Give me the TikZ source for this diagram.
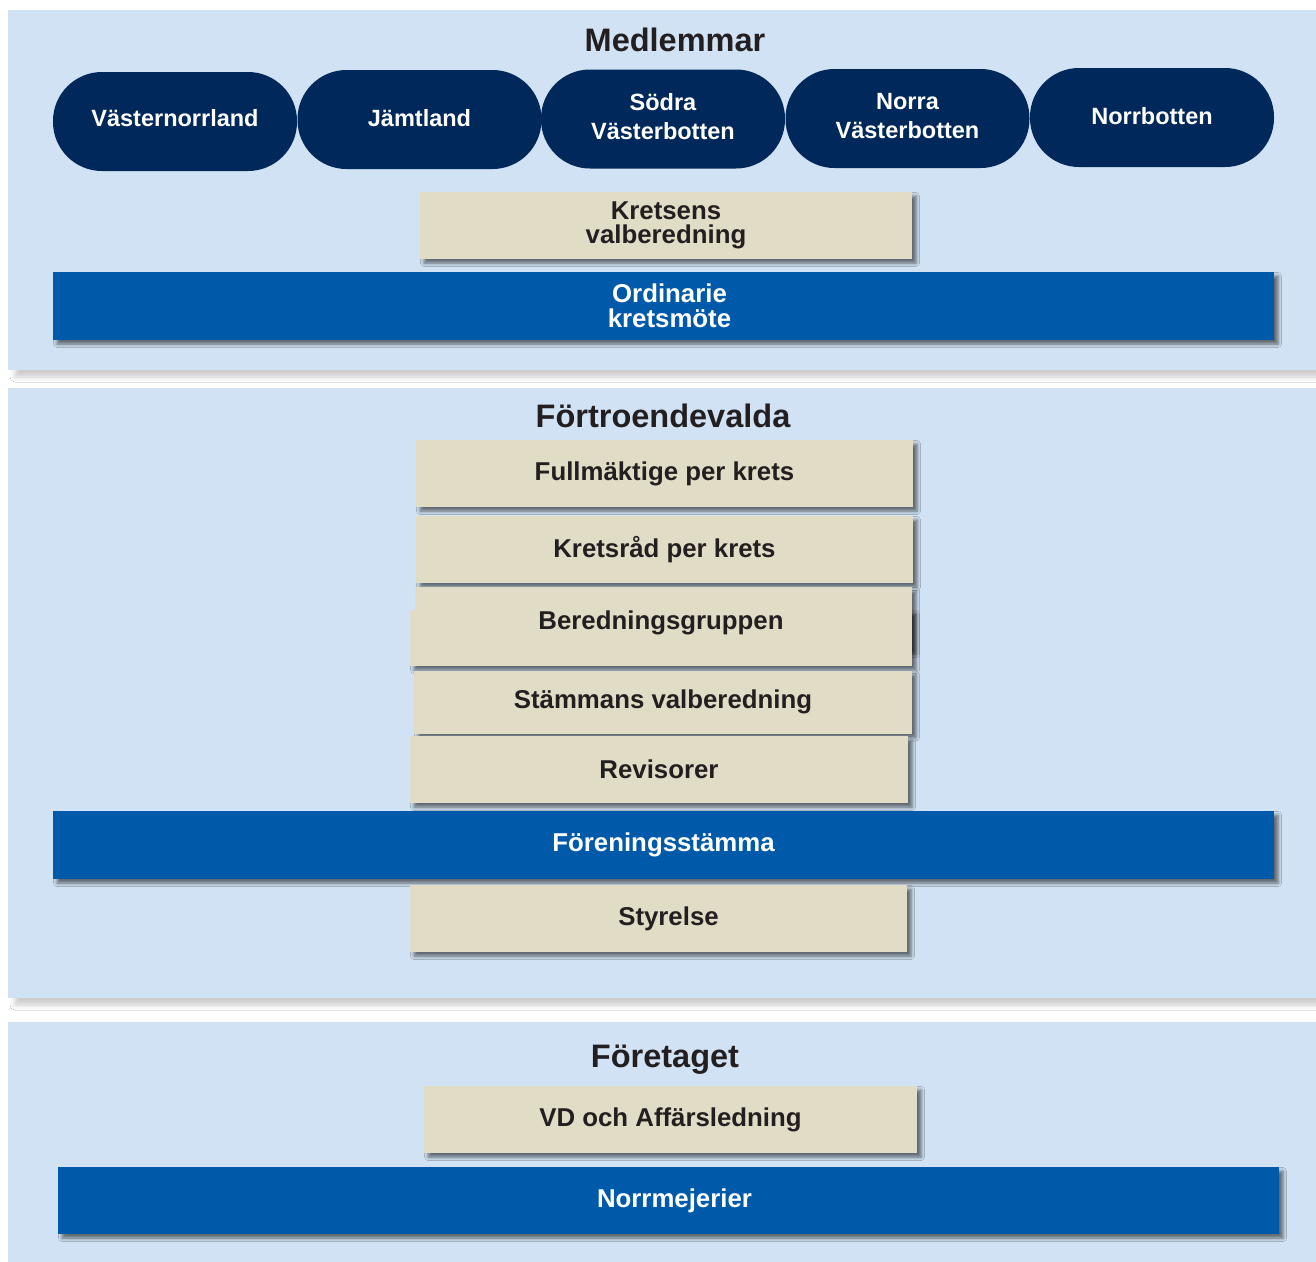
\documentclass[tikz,border=0pt]{standalone}
\usepackage{fontspec}
\setmainfont{Liberation Sans}
\usetikzlibrary{shadows.blur}
\definecolor{bg}{HTML}{D0E2F3}
\definecolor{navy}{HTML}{00285A}
\definecolor{barblue}{HTML}{0059A9}
\definecolor{beige}{HTML}{E1DCC5}
\definecolor{txt}{HTML}{231F20}
\tikzset{
  panel/.style={fill=bg, blur shadow={shadow xshift=7pt, shadow yshift=-7pt, shadow blur radius=5pt, shadow opacity=20}},
  pill/.style={fill=navy, rounded corners=49pt, minimum width=244pt, minimum height=99pt, inner sep=0pt,
    text=white, align=center, font=\bfseries\fontsize{23.5}{29}\selectfont},
  card/.style={fill=beige, minimum width=497pt, minimum height=67pt, inner sep=0pt, text=txt, align=center,
    font=\bfseries\fontsize{25.8}{24.5}\selectfont,
    blur shadow={shadow xshift=4pt, shadow yshift=-4pt, shadow blur radius=3.5pt, shadow opacity=55}},
  bluebar/.style={fill=barblue, minimum width=1221pt, minimum height=68pt, inner sep=0pt, text=white, align=center,
    font=\bfseries\fontsize{25.8}{24.5}\selectfont,
    blur shadow={shadow xshift=4pt, shadow yshift=-4pt, shadow blur radius=3.5pt, shadow opacity=55}},
  heading/.style={text=txt, font=\bfseries\fontsize{32.5}{34}\selectfont, inner sep=0pt},
}
\begin{document}
\begin{tikzpicture}[x=1pt,y=-1pt]
\useasboundingbox (0,0) rectangle (1316,1261);
\clip (0,0) rectangle (1316,1261);
\fill[white] (0,0) rectangle (1316,1261);
% panels
\fill[panel] (8,10) rectangle (1330,370);
\fill[panel] (8,388) rectangle (1330,998);
\fill[panel] (8,1022) rectangle (1330,1275);

% Medlemmar
\node[heading] (medlemmar) at (675,40) {Medlemmar};
\node[pill] (vn) at (175,121.5) {\raisebox{7pt}{Västernorrland}};
\node[pill] (jl) at (419.5,119.5) {\raisebox{4pt}{Jämtland}};
\node[pill] (sv) at (663,119) {\raisebox{4pt}{\begin{tabular}{@{}c@{}}Södra\\Västerbotten\end{tabular}}};
\node[pill] (nv) at (907.5,118.5) {\raisebox{4pt}{\begin{tabular}{@{}c@{}}Norra\\Västerbotten\end{tabular}}};
\node[pill] (nb) at (1152,117.5) {\raisebox{4pt}{Norrbotten}};
\node[card, minimum width=492pt] (kv) at (666,225.5) {Kretsens\\valberedning};
\node[bluebar] (ok) at (663.5,306) {\hspace*{12pt}Ordinarie\\\hspace*{12pt}kretsmöte};

% Förtroendevalda
\node[heading] (fortroendevalda) at (663,416) {Förtroendevalda};
\node[card] (fm) at (664.5,473.5) {Fullmäktige per krets};
\node[card] (kr) at (664.5,549.5) {Kretsråd per krets};
\node[card, minimum width=497pt, minimum height=63pt] (bgA) at (663.5,618.5) {};
\node[card, minimum width=502pt, minimum height=56pt] (bgB) at (661,638) {};
\node[text=txt, font=\bfseries\fontsize{25.8}{24.5}\selectfont, inner sep=0pt] (bg) at (661,623) {Beredningsgruppen};
\node[card, minimum width=498pt, minimum height=63pt] (sv2) at (663,702) {Stämmans valberedning};
\node[card, minimum width=498pt] (rev) at (659,769.5) {Revisorer};
\node[bluebar] (fs) at (663.5,845) {Föreningsstämma};
\node[card] (sty) at (658.5,918.5) {\hspace*{20pt}Styrelse};

% Företaget
\node[heading] (foretaget) at (665,1060) {Företaget};
\node[card, minimum width=493pt] (vd) at (670.5,1119.5) {\raisebox{-2pt}{VD och Affärsledning}};
\node[bluebar, minimum height=67pt] (nm) at (668.5,1200.5) {\hspace*{12pt}\raisebox{-2pt}{Norrmejerier}};
\end{tikzpicture}
\end{document}
